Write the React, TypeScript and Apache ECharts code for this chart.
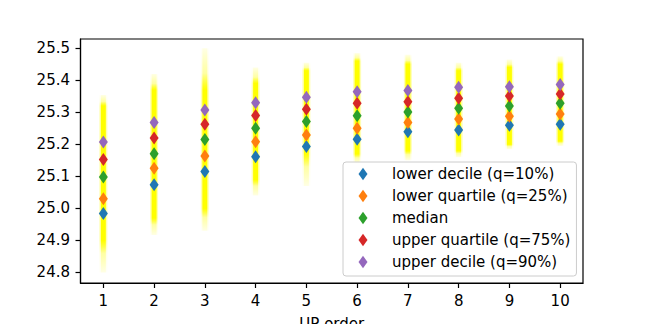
import React, { useEffect, useRef } from "react";
import * as echarts from "echarts";

const upOrder = [1, 2, 3, 4, 5, 6, 7, 8, 9, 10];
const lowerDecile = [24.984, 25.074, 25.115, 25.161, 25.193, 25.216, 25.239, 25.245, 25.26, 25.263];
const lowerQuartile = [25.03, 25.125, 25.164, 25.208, 25.229, 25.25, 25.268, 25.279, 25.288, 25.295];
const median = [25.098, 25.171, 25.215, 25.25, 25.271, 25.289, 25.301, 25.313, 25.32, 25.328];
const upperQuartile = [25.153, 25.22, 25.263, 25.29, 25.31, 25.328, 25.333, 25.344, 25.351, 25.357];
const upperDecile = [25.207, 25.268, 25.307, 25.33, 25.347, 25.364, 25.368, 25.378, 25.38, 25.387];
// spread of the underlying samples (faint extent and dense core)
const sampleMin = [24.8, 24.917, 24.93, 25.04, 25.07, 25.14, 25.15, 25.16, 25.185, 25.195];
const sampleMax = [25.354, 25.42, 25.5, 25.44, 25.455, 25.485, 25.48, 25.455, 25.465, 25.475];
const denseMin = [24.9, 24.97, 25.0, 25.09, 25.17, 25.17, 25.18, 25.18, 25.2, 25.21];
const denseMax = [25.32, 25.37, 25.37, 25.39, 25.43, 25.46, 25.45, 25.43, 25.44, 25.45];
const yTicks = [24.8, 24.9, 25.0, 25.1, 25.2, 25.3, 25.4, 25.5];
const xTicks = [1, 2, 3, 4, 5, 6, 7, 8, 9, 10];

const seriesNames = [
  "lower decile (q=10%)",
  "lower quartile (q=25%)",
  "median",
  "upper quartile (q=75%)",
  "upper decile (q=90%)",
];
const seriesValues = [lowerDecile, lowerQuartile, median, upperQuartile, upperDecile];
const colors = ["#1f77b4", "#ff7f0e", "#2ca02c", "#d62728", "#9467bd"];

const diamond = "path://M5,0 L10,7 L5,14 L0,7 Z";
const FONT = "DejaVu Sans";
const FS = 15;

export default function App() {
  const ref = useRef<HTMLDivElement>(null);
  useEffect(() => {
    if (!ref.current) return;
    const chart = echarts.init(ref.current, null, { renderer: "svg" });
    const streakData = upOrder.map((x, i) => [x, sampleMin[i], sampleMax[i], denseMin[i], denseMax[i]]);
    const grad = (o1: number, o2: number, a: number) => ({
      type: "linear",
      x: 0,
      y: 0,
      x2: 0,
      y2: 1,
      colorStops: [
        { offset: 0, color: `rgba(255,255,0,${0.08 * a})` },
        { offset: Math.max(0.01, o1 * 0.6), color: `rgba(255,255,0,${0.3 * a})` },
        { offset: o1, color: `rgba(255,255,0,${a})` },
        { offset: o2, color: `rgba(255,255,0,${a})` },
        { offset: Math.min(0.99, o2 + (1 - o2) * 0.4), color: `rgba(255,255,0,${0.3 * a})` },
        { offset: 1, color: `rgba(255,255,0,${0.08 * a})` },
      ],
    });
    chart.setOption({
      animation: false,
      grid: {
        left: 80.5,
        right: 65,
        top: 39,
        bottom: 41,
        containLabel: false,
        outerBoundsMode: "none",
        show: true,
        borderColor: "#000",
        borderWidth: 1.2,
        backgroundColor: "transparent",
      },
      xAxis: {
        type: "value",
        min: 0.55,
        max: 10.45,
        name: "UP order",
        nameLocation: "middle",
        nameGap: 33.5,
        nameTextStyle: { fontFamily: FONT, fontSize: FS, color: "#000" },
        splitLine: { show: false },
        axisLine: { show: true, lineStyle: { color: "#000", width: 1.2 } },
        axisTick: { show: true, length: 5, customValues: xTicks, lineStyle: { color: "#000", width: 1.2 } },
        axisLabel: {
          customValues: xTicks,
          margin: 10.5,
          fontFamily: FONT,
          fontSize: FS,
          color: "#000",
          formatter: (v: number) => String(v),
        },
      },
      yAxis: {
        type: "value",
        min: 24.767,
        max: 25.529,
        splitLine: { show: false },
        axisLine: { show: true, lineStyle: { color: "#000", width: 1.2 } },
        axisTick: { show: true, length: 5, customValues: yTicks, lineStyle: { color: "#000", width: 1.2 } },
        axisLabel: {
          customValues: yTicks,
          margin: 10.5,
          fontFamily: FONT,
          fontSize: FS,
          color: "#000",
          formatter: (v: number) => v.toFixed(1),
        },
      },
      legend: {
        orient: "vertical",
        left: 343,
        top: 162,
        data: seriesNames.map((n) => ({ name: n, icon: diamond })),
        itemWidth: 9,
        itemHeight: 13,
        itemGap: 7,
        padding: [4.5, 6, 6.5, 15.5],
        backgroundColor: "rgba(255,255,255,0.85)",
        borderColor: "#cccccc",
        borderWidth: 1,
        borderRadius: 3,
        selectedMode: false,
        textStyle: {
          fontFamily: FONT,
          fontSize: FS,
          color: "#000",
          lineHeight: 15,
          padding: [0, 0, 0, 19.5],
        },
      },
      series: [
        {
          type: "custom",
          name: "samples",
          silent: true,
          z: 1,
          data: streakData,
          encode: { x: 0, y: [1, 2] },
          renderItem: (params: any, api: any) => {
            const x = api.value(0);
            const lo = api.value(1);
            const hi = api.value(2);
            const dLo = api.value(3);
            const dHi = api.value(4);
            const top = api.coord([x, hi]);
            const bot = api.coord([x, lo]);
            const h = bot[1] - top[1];
            const o1 = (hi - dHi) / (hi - lo);
            const o2 = (hi - dLo) / (hi - lo);
            return {
              type: "group",
              children: [
                {
                  type: "rect",
                  shape: { x: top[0] - 4, y: top[1], width: 8, height: h },
                  style: { fill: grad(o1, o2, 0.3) },
                },
                {
                  type: "rect",
                  shape: { x: top[0] - 2.5, y: top[1], width: 5, height: h },
                  style: { fill: grad(o1, o2, 1) },
                },
              ],
            };
          },
        },
        ...seriesNames.map((name, k) => ({
          type: "scatter",
          name,
          z: 2 + k,
          symbol: diamond,
          symbolSize: [9, 13],
          itemStyle: { color: colors[k], opacity: 1 },
          data: upOrder.map((x, i) => [x, seriesValues[k][i]]),
        })),
      ],
    });
    return () => chart.dispose();
  }, []);
  return (
    <div
      ref={ref}
      style={{ position: "absolute", left: 0, top: 0, width: 648, height: 324, background: "#fff" }}
    />
  );
}
